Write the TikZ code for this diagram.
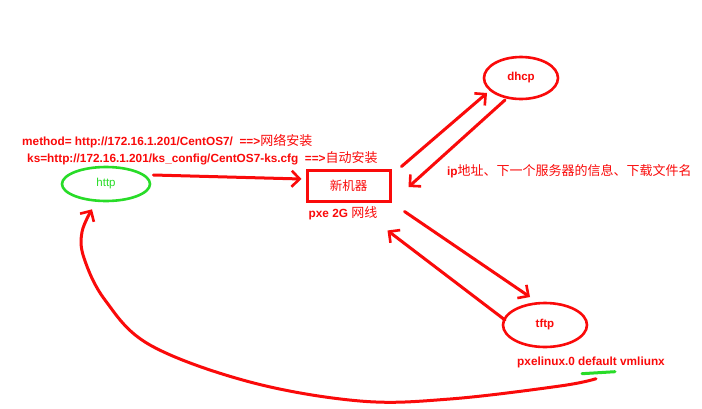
\documentclass[tikz,border=0pt]{standalone}
\usepackage{fontspec}
\setmainfont{Liberation Sans}
\newfontfamily\cjk{Noto Sans CJK SC}
\usetikzlibrary{arrows.meta,shapes.geometric,calc}
\definecolor{pred}{RGB}{250,10,10}
\definecolor{pgreen}{RGB}{40,220,40}
\newcommand\zh[1]{{\fontsize{13}{14}\selectfont\cjk\mdseries #1}}
\begin{document}
\begin{tikzpicture}[x=1pt,y=-1pt,
  lbl/.style={text=pred,font=\fontsize{11.8}{13}\selectfont\bfseries,inner sep=0pt},
  conn/.style={draw=pred,line width=3pt,line cap=round,-{Straight Barb[length=8pt,width=16pt,line width=2.6pt]}},
  ell/.style={draw=pred,ellipse,line width=2.6pt,inner sep=0pt,text=pred,font=\fontsize{11.5}{13}\selectfont\bfseries},
  boxst/.style={draw=pred,rectangle,line width=3pt,inner sep=0pt,text=pred,font=\fontsize{12.5}{13}\selectfont\cjk}
]
\useasboundingbox (0,0) rectangle (702,408);
\fill[white] (0,0) rectangle (702,408);

\node[ell,minimum width=74pt,minimum height=42pt] (dhcp) at (521,78) {dhcp};
\node[ell,minimum width=84pt,minimum height=44pt] (tftp) at (545,325) {\raisebox{3pt}{tftp}};
\node[ell,draw=pgreen,text=pgreen,font=\fontsize{11.5}{13}\selectfont,minimum width=88pt,minimum height=34pt] (http) at (106,184) {\raisebox{2pt}{http}};
\node[boxst,minimum width=83pt,minimum height=31pt] (m) at (348.5,185.5) {新机器};

\node[lbl,anchor=west] (t1) at (22,141) {method= http://172.16.1.201/CentOS7/\ \ ==>\zh{网络安装}};
\node[lbl,anchor=west] (t2) at (27,158) {ks=http://172.16.1.201/ks\_config/CentOS7-ks.cfg\ \ ==>\zh{自动安装}};
\node[lbl] (t3) at (343,213) {pxe 2G \zh{网线}};
\node[lbl,anchor=west] (t4) at (447,171) {ip\zh{地址、下一个服务器的信息、下载文件名}};
\node[lbl] (t5) at (591,362) {pxelinux.0 default vmliunx};

\draw[pgreen,line width=3pt,line cap=round] ($(t5.south)+(-9,6)$) -- ($(t5.south)+(24,4)$);

\draw[conn] ($(http.east)+(2,-9)$) -- ($(m.west)+(-4,-6.5)$);
\draw[conn] ($(m.north east)+(10,-2)$) -- ($(dhcp.center)+(-34,15)$);
\draw[conn] ($(dhcp.center)+(-16,22)$) -- ($(m.east)+(17,1.5)$);
\draw[conn] ($(m.south east)+(13,9)$) -- ($(tftp.center)+(-15,-28)$);
\draw[conn] ($(tftp.center)+(-40,-5)$) -- ($(m.south east)+(-4,28)$);

\coordinate (cs) at ($(t5.south)+(5,11)$);
\coordinate (ce) at ($(http.south)+(-14,7)$);
\draw[conn] plot[smooth,tension=0.6] coordinates {(cs) (560,386) (450,399) (360,401) (250,382) (150,345) (105,300) (84,258) (82,232) (ce)};
\end{tikzpicture}
\end{document}
